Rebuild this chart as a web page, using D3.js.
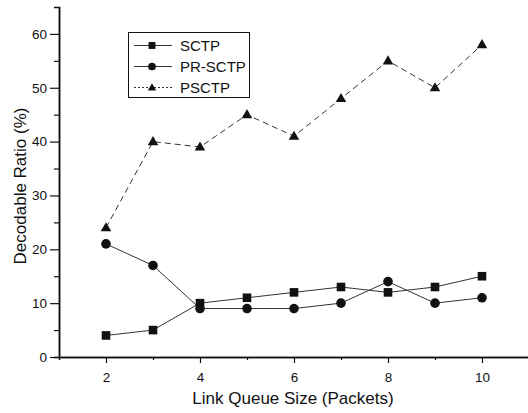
<!DOCTYPE html>
<html><head><meta charset="utf-8">
<script src="https://cdn.jsdelivr.net/npm/d3@7"></script>
<style>body{margin:0;background:#fff}svg{display:block}text{font-family:"Liberation Sans",Arial,sans-serif;fill:#111}</style>
</head><body>
<script>
const queueSizes = [2,3,4,5,6,7,8,9,10];
const sctp   = [4,5,10,11,12,13,12,13,15];
const prsctp = [21,17,9,9,9,10,14,10,11];
const psctp  = [24,40,39,45,41,48,55,50,58];
const xTicks = [2,4,6,8,10];
const yTicks = [0,10,20,30,40,50,60];
const seriesNames = ["SCTP","PR-SCTP","PSCTP"];

const W=528,H=413;
const svg=d3.select("body").append("svg").attr("width",W).attr("height",H);
const x=d3.scaleLinear().domain([1,11]).range([59,529]);
const y=d3.scaleLinear().domain([0,65]).range([357,7]);
const ink="#111";

// axes
const xAxis=d3.axisBottom(x).tickValues(xTicks).tickSize(6).tickPadding(9).tickFormat(d3.format("d"));
const gx=svg.append("g").attr("transform","translate(0,357)").call(xAxis);
const yAxis=d3.axisLeft(y).tickValues(yTicks).tickSize(9).tickPadding(3).tickFormat(d3.format("d"));
const gy=svg.append("g").attr("transform","translate(59,0)").call(yAxis);
// minor ticks
svg.append("g").attr("transform","translate(0,357)").call(d3.axisBottom(x).tickValues([3,5,7,9]).tickSize(3).tickFormat(""));
svg.append("g").attr("transform","translate(59,0)").call(d3.axisLeft(y).tickValues([5,15,25,35,45,55]).tickSize(5).tickFormat(""));
svg.selectAll(".domain").attr("stroke",ink).attr("stroke-width",1.5);
svg.selectAll(".tick line").attr("stroke",ink).attr("stroke-width",1.2);
svg.selectAll(".tick text").style("font-size","13.5px").attr("fill",ink);
gx.select(".domain").attr("d","M59,0.5H529");
gy.select(".domain").attr("d","M0.5,357V7");

svg.append("text").attr("x",293).attr("y",404).attr("text-anchor","middle").style("font-size","17px").text("Link Queue Size (Packets)");
svg.append("text").attr("transform","translate(26,186) rotate(-90)").attr("text-anchor","middle").style("font-size","17px").text("Decodable Ratio (%)");

const data=[sctp,prsctp,psctp];
const dashes=[null,null,"6,4"];
const line=d3.line().x((d,i)=>x(queueSizes[i])).y(d=>y(d));
data.forEach((s,k)=>{
  svg.append("path").attr("d",line(s)).attr("fill","none").attr("stroke","#333").attr("stroke-width",1)
    .attr("stroke-dasharray",dashes[k]);
});
function marker(g,k,cx,cy,sc){
  sc=sc||1;
  if(k===0) g.append("rect").attr("x",cx-4.3*sc).attr("y",cy-4.3*sc).attr("width",8.6*sc).attr("height",8.6*sc).attr("fill",ink);
  else if(k===1) g.append("circle").attr("cx",cx).attr("cy",cy).attr("r",4.8*sc).attr("fill",ink);
  else g.append("path").attr("d",d3.symbol(d3.symbolTriangle,48*sc*sc)()).attr("transform",`translate(${cx},${cy+0.5})`).attr("fill",ink);
}
data.forEach((s,k)=>{
  s.forEach((v,i)=>marker(svg,k,x(queueSizes[i]),y(v)));
});

// legend
const lg=svg.append("g");
lg.append("rect").attr("x",128.5).attr("y",32.5).attr("width",121).attr("height",65).attr("fill","#fff").attr("stroke",ink).attr("stroke-width",1);
seriesNames.forEach((n,k)=>{
  const yy=45.5+k*21;
  lg.append("line").attr("x1",134).attr("x2",172).attr("y1",yy).attr("y2",yy).attr("stroke","#333").attr("stroke-width",1)
    .attr("stroke-dasharray",k===2?"2,2":null);
  marker(lg,k,152,yy,0.8);
  lg.append("text").attr("x",180).attr("y",yy+5.5).style("font-size","15px").text(n);
});
</script>
</body></html>
